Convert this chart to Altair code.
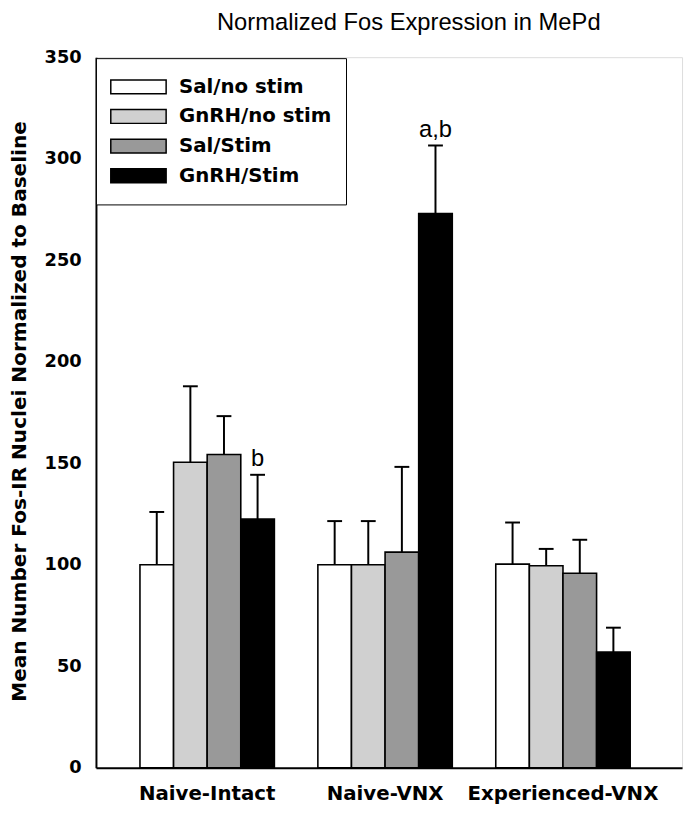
import altair as alt
import pandas as pd

# ---- data ----
groups = ["Naive-Intact", "Naive-VNX", "Experienced-VNX"]
series = ["Sal/no stim", "GnRH/no stim", "Sal/Stim", "GnRH/Stim"]
colors = ["#ffffff", "#d0d0d0", "#999999", "#000000"]

sal_nostim = [100.0, 100.0, 100.3]
gnrh_nostim = [150.5, 100.0, 99.5]
sal_stim = [154.3, 106.2, 95.8]
gnrh_stim = [122.5, 273.0, 57.0]

sal_nostim_err = [26.0, 21.5, 20.5]
gnrh_nostim_err = [37.4, 21.5, 8.3]
sal_stim_err = [18.9, 42.0, 16.5]
gnrh_stim_err = [21.8, 33.5, 12.0]

annot_group = ["Naive-Intact", "Naive-VNX"]
annot_series = ["GnRH/Stim", "GnRH/Stim"]
annot_text = ["b", "a,b"]

y_ticks = [0, 50, 100, 150, 200, 250, 300, 350]

means = [sal_nostim, gnrh_nostim, sal_stim, gnrh_stim]
errs = [sal_nostim_err, gnrh_nostim_err, sal_stim_err, gnrh_stim_err]

rows = []
for si, s in enumerate(series):
    for gi, g in enumerate(groups):
        rows.append({"group": g, "series": s, "mean": means[si][gi],
                     "upper": means[si][gi] + errs[si][gi]})
df = pd.DataFrame(rows)

ann_rows = []
for g, s, t in zip(annot_group, annot_series, annot_text):
    r = df[(df.group == g) & (df.series == s)].iloc[0]
    ann_rows.append({"group": g, "series": s, "upper": r["upper"], "label": t})
ann = pd.DataFrame(ann_rows)

BOLD = "DejaVu Sans"

x_enc = alt.X("group:N", sort=groups,
              scale=alt.Scale(paddingInner=0.2444, paddingOuter=0.2694, align=0.459),
              axis=alt.Axis(title=None, ticks=False, domainColor="black", domainWidth=2,
                            labelFont=BOLD, labelFontWeight="bold", labelFontSize=20,
                            labelColor="black", labelPadding=16, labelAngle=0,
                            labelLimit=400))
xo_enc = alt.XOffset("series:N", sort=series,
                     scale=alt.Scale(paddingInner=0, paddingOuter=0))
y_scale = alt.Scale(domain=[0, 350], nice=False)

bars = alt.Chart(df).mark_bar(stroke="black", strokeWidth=1.6).encode(
    x=x_enc,
    xOffset=xo_enc,
    y=alt.Y("mean:Q", scale=y_scale,
            axis=alt.Axis(values=y_ticks, ticks=False, grid=False,
                          domainColor="black", domainWidth=2,
                          labelFont=BOLD, labelFontWeight="bold", labelFontSize=18,
                          labelColor="black", labelPadding=15,
                          title="Mean Number Fos-IR Nuclei Normalized to Baseline",
                          titleFont=BOLD, titleFontWeight="bold", titleFontSize=20.3,
                          titleColor="black", titleAngle=270, titleAlign="center",
                          titleBaseline="alphabetic", titleX=-71, titleY=358)),
    color=alt.Color("series:N", sort=series,
                    scale=alt.Scale(domain=series, range=colors),
                    legend=alt.Legend(
                        title=None, orient="none", legendX=0, legendY=1,
                        strokeColor="black", fillColor="white",
                        padding=14, clipHeight=30, rowPadding=0,
                        symbolOffset=0, labelOffset=12,
                        symbolType="M-1,-0.25L1,-0.25L1,0.25L-1,0.25Z",
                        symbolSize=3136, symbolStrokeColor="black",
                        symbolStrokeWidth=1.5,
                        labelFont=BOLD, labelFontWeight="bold", labelFontSize=20,
                        labelColor="black")),
)

rules = alt.Chart(df).mark_rule(color="black", strokeWidth=2).encode(
    x=x_enc, xOffset=xo_enc,
    y=alt.Y("mean:Q", scale=y_scale), y2="upper:Q",
)

caps = alt.Chart(df).mark_tick(color="black", thickness=2, size=15, opacity=1).encode(
    x=x_enc, xOffset=xo_enc,
    y=alt.Y("upper:Q", scale=y_scale),
)

texts = alt.Chart(ann).mark_text(font="Liberation Sans", fontSize=24, color="black",
                                 baseline="alphabetic", dy=-9).encode(
    x=x_enc, xOffset=xo_enc,
    y=alt.Y("upper:Q", scale=y_scale),
    text="label:N",
)

chart = alt.layer(bars, rules, caps, texts).properties(
    width=593, height=719,
    autosize=alt.AutoSizeParams(type="none"),
    padding={"left": 89, "top": 45, "right": 4, "bottom": 40},
    title=alt.TitleParams("Normalized Fos Expression in MePd", font="Liberation Sans",
                          fontSize=24, fontWeight="normal", color="black",
                          anchor="middle", frame="group", dx=20, offset=13),
).configure_view(strokeWidth=0, stroke="transparent").configure_legend(
    strokeWidth=2).configure(background="white")

chart.save("out.html", embed_options={"renderer": "svg", "actions": False})
